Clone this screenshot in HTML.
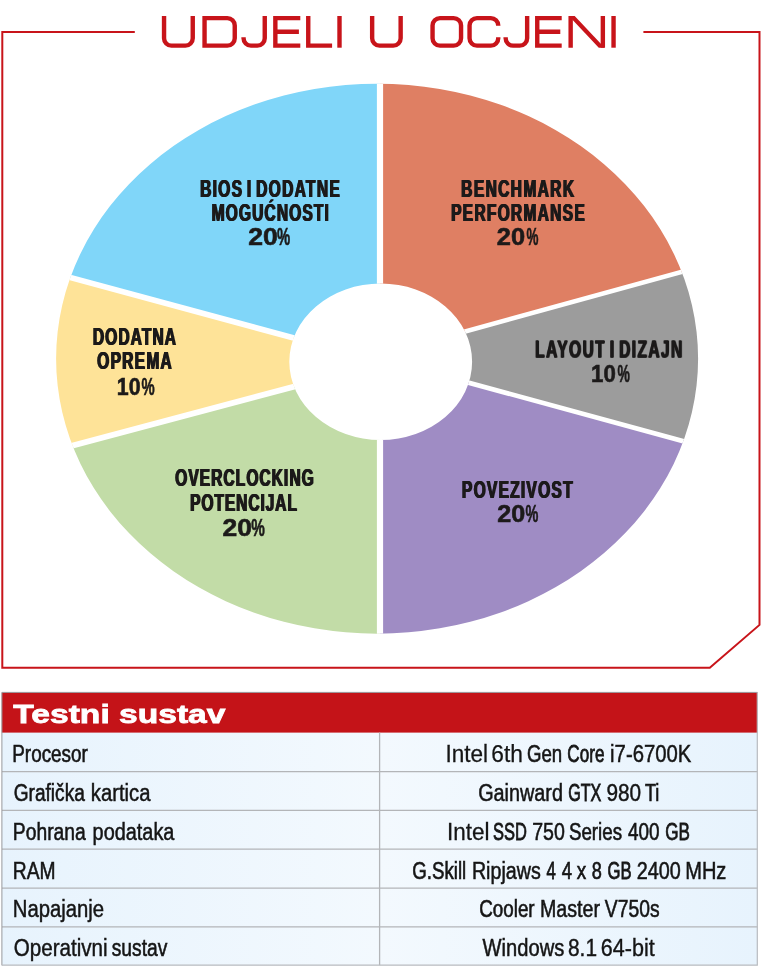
<!DOCTYPE html>
<html>
<head>
<meta charset="utf-8">
<title>Udjeli u ocjeni</title>
<style>
html,body{margin:0;padding:0;background:#fff;}
body{width:764px;height:967px;position:relative;overflow:hidden;font-family:"Liberation Sans",sans-serif;}
svg{position:absolute;left:0;top:0;will-change:transform;}
.lbl{font-family:"Liberation Sans",sans-serif;font-weight:bold;font-size:23.6px;fill:#1c1a1a;stroke:#1c1a1a;stroke-width:0.1px;word-spacing:-3px;}
.lbl text,.cell text,.cell tspan{vector-effect:non-scaling-stroke;}
.hdr{font-family:"Liberation Sans",sans-serif;font-weight:bold;font-size:26.6px;fill:#fff;stroke:#fff;stroke-width:0.8px;}
.cell{font-family:"Liberation Sans",sans-serif;font-size:23px;fill:#151515;stroke:#151515;stroke-width:0.4px;word-spacing:-2px;}
</style>
</head>
<body>
<svg width="764" height="967" viewBox="0 0 764 967">
<defs>
<clipPath id="ring"><path clip-rule="evenodd" d="M56.1,358.65 a321,275 0 1,0 642,0 a321,275 0 1,0 -642,0 Z M289.3,361.8 a91.4,78.2 0 1,1 182.8,0 a91.4,78.2 0 1,1 -182.8,0 Z"/></clipPath>
<linearGradient id="rowg" x1="0" x2="1" y1="0" y2="0">
<stop offset="0" stop-color="#e7f3fd"/><stop offset="0.5" stop-color="#f3f9fe"/><stop offset="1" stop-color="#e7f3fd"/>
</linearGradient>
<filter id="hb" filterUnits="userSpaceOnUse" x="60" y="160" width="640" height="400" color-interpolation-filters="sRGB">
<feOffset in="SourceGraphic" dx="-0.5" dy="0" result="a"/><feOffset in="SourceGraphic" dx="0.5" dy="0" result="b"/>
<feMerge><feMergeNode in="a"/><feMergeNode in="b"/><feMergeNode in="SourceGraphic"/></feMerge>
</filter>
</defs>

<!-- frame -->
<path d="M134.8,32.05 H2.3 V667.7 H709.8 L759.5,624.9 V32.05 H643.4" fill="none" stroke="#c8141a" stroke-width="2"/>

<!-- title -->
<g fill="none" stroke="#c8141a" stroke-width="4.4" stroke-linejoin="miter">
<path d="M164.05,16 V38.2 A7.4,7.4 0 0 0 171.45,45.6 H185.35 A7.4,7.4 0 0 0 192.75,38.2 V16"/>
<path d="M204.55,18.1 H227.35 A7.4,7.4 0 0 1 234.75,25.5 V38.2 A7.4,7.4 0 0 1 227.35,45.6 H204.55 Z"/>
<path d="M264.75,16 V38.2 A7.4,7.4 0 0 1 257.35,45.6 H250.95 A7.4,7.4 0 0 1 243.55,38.2 V37.2"/>
<path d="M300.3,18.1 H275.35 V45.6 H300.3 M275.35,31.8 H298.9"/>
<path d="M308.25,16 V45.6 H332.1"/>
<path d="M339.5,16 V47.7"/>
<path d="M372.15,16 V38.2 A7.4,7.4 0 0 0 379.55,45.6 H393.25 A7.4,7.4 0 0 0 400.65,38.2 V16"/>
<path d="M439.95,18.1 H453.65 A7.4,7.4 0 0 1 461.05,25.5 V38.2 A7.4,7.4 0 0 1 453.65,45.6 H439.95 A7.4,7.4 0 0 1 432.55,38.2 V25.5 A7.4,7.4 0 0 1 439.95,18.1 Z"/>
<path d="M498.25,25.8 V25.5 A7.4,7.4 0 0 0 490.85,18.1 H476.95 A7.4,7.4 0 0 0 469.55,25.5 V38.2 A7.4,7.4 0 0 0 476.95,45.6 H490.85 A7.4,7.4 0 0 0 498.25,38.2 V37.2"/>
<path d="M527.15,16 V38.2 A7.4,7.4 0 0 1 519.75,45.6 H513.05 A7.4,7.4 0 0 1 505.65,38.2 V37.2"/>
<path d="M561.7,18.1 H537.25 V45.6 H561.7 M537.25,31.8 H560.3"/>
<path d="M570.65,47.7 V16 M602.85,16 V47.7"/>
<path d="M613.55,16 V47.7"/>
<polygon stroke="none" fill="#c8141a" points="568.9,16 574.7,16 604.6,47.7 598.8,47.7"/>
</g>

<!-- donut -->
<g clip-path="url(#ring)">
<polygon fill="#df7f63" points="380,0 764,0 764,249.2 380,354.9"/>
<polygon fill="#9c9c9c" points="380,354.9 764,249.2 764,463.3 380,358.5"/>
<polygon fill="#9f8cc4" points="380,358.5 764,463.3 764,700 380,700"/>
<polygon fill="#c2dca7" points="380,700 0,700 0,464.8 380,363.9"/>
<polygon fill="#fee398" points="380,363.9 0,464.8 0,258.5 380,361.3"/>
<polygon fill="#80d6f9" points="380,361.3 0,258.5 0,0 380,0"/>
<g stroke="#fff" stroke-width="4.7" fill="none">
<line x1="380" y1="0" x2="380" y2="700" stroke-width="6.2"/>
<line x1="380" y1="354.9" x2="764" y2="249.2"/>
<line x1="380" y1="358.5" x2="764" y2="463.3"/>
<line x1="380" y1="363.9" x2="0" y2="464.8" stroke-width="5.8"/>
<line x1="380" y1="361.3" x2="0" y2="258.5" stroke-width="5.7"/>
</g>
</g>

<!-- labels -->
<g class="lbl" filter="url(#hb)">
<g transform="translate(199.70,196.6) scale(0.66,1)"><text x="0" y="0" textLength="211.54" lengthAdjust="spacing">BIOS I DODATNE</text></g>
<g transform="translate(211.20,220.9) scale(0.66,1)"><text x="0" y="0" textLength="177.61" lengthAdjust="spacing">MOGUĆNOSTI</text></g>
<g transform="translate(460.80,196.6) scale(0.66,1)"><text x="0" y="0" textLength="171.11" lengthAdjust="spacing">BENCHMARK</text></g>
<g transform="translate(450.70,220.9) scale(0.66,1)"><text x="0" y="0" textLength="202.46" lengthAdjust="spacing">PERFORMANSE</text></g>
<g transform="translate(534.80,357.5) scale(0.66,1)"><text x="0" y="0" textLength="222.77" lengthAdjust="spacing">LAYOUT I DIZAJN</text></g>
<g transform="translate(461.60,497.6) scale(0.66,1)"><text x="0" y="0" textLength="167.60" lengthAdjust="spacing">POVEZIVOST</text></g>
<g transform="translate(174.80,486.2) scale(0.66,1)"><text x="0" y="0" textLength="209.90" lengthAdjust="spacing">OVERCLOCKING</text></g>
<g transform="translate(189.70,511.1) scale(0.66,1)"><text x="0" y="0" textLength="161.87" lengthAdjust="spacing">POTENCIJAL</text></g>
<g transform="translate(92.50,344.8) scale(0.66,1)"><text x="0" y="0" textLength="125.85" lengthAdjust="spacing">DODATNA</text></g>
<g transform="translate(96.80,369.4) scale(0.66,1)"><text x="0" y="0" textLength="112.94" lengthAdjust="spacing">OPREMA</text></g>
</g>
<g class="lbl">
<g transform="translate(248.20,245.4) scale(0.9,1)"><text x="0" y="0" stroke-width="0.55" textLength="32.83" lengthAdjust="spacingAndGlyphs">20</text></g>
<g transform="translate(277.10,245.4) scale(0.56,1)"><text x="0" y="0" stroke-width="0.5" textLength="23.53" lengthAdjust="spacingAndGlyphs">%</text></g>
<g transform="translate(496.80,245.4) scale(0.9,1)"><text x="0" y="0" stroke-width="0.55" textLength="31.39" lengthAdjust="spacingAndGlyphs">20</text></g>
<g transform="translate(526.40,245.4) scale(0.56,1)"><text x="0" y="0" stroke-width="0.5" textLength="21.35" lengthAdjust="spacingAndGlyphs">%</text></g>
<g transform="translate(591.10,381.6) scale(0.9,1)"><text x="0" y="0" stroke-width="0.55" textLength="27.50" lengthAdjust="spacingAndGlyphs">10</text></g>
<g transform="translate(617.60,381.6) scale(0.56,1)"><text x="0" y="0" stroke-width="0.5" textLength="22.14" lengthAdjust="spacingAndGlyphs">%</text></g>
<g transform="translate(497.20,522.4) scale(0.9,1)"><text x="0" y="0" stroke-width="0.55" textLength="31.08" lengthAdjust="spacingAndGlyphs">20</text></g>
<g transform="translate(525.60,522.4) scale(0.56,1)"><text x="0" y="0" stroke-width="0.5" textLength="22.91" lengthAdjust="spacingAndGlyphs">%</text></g>
<g transform="translate(222.60,536.2) scale(0.9,1)"><text x="0" y="0" stroke-width="0.55" textLength="32.70" lengthAdjust="spacingAndGlyphs">20</text></g>
<g transform="translate(251.30,536.2) scale(0.56,1)"><text x="0" y="0" stroke-width="0.5" textLength="24.24" lengthAdjust="spacingAndGlyphs">%</text></g>
<g transform="translate(116.80,394.6) scale(0.9,1)"><text x="0" y="0" stroke-width="0.55" textLength="26.44" lengthAdjust="spacingAndGlyphs">10</text></g>
<g transform="translate(141.50,394.6) scale(0.56,1)"><text x="0" y="0" stroke-width="0.5" textLength="23.52" lengthAdjust="spacingAndGlyphs">%</text></g>
</g>

<!-- table -->
<rect x="1.8" y="692.5" width="755.8" height="272.9" fill="url(#rowg)"/>
<rect x="1.8" y="692.5" width="755.8" height="40.1" fill="#c41318"/>
<g stroke="#b3b5b8" stroke-width="1.3" fill="none">
<line x1="2" y1="771.6" x2="757.5" y2="771.6"/>
<line x1="2" y1="810.4" x2="757.5" y2="810.4"/>
<line x1="2" y1="849.2" x2="757.5" y2="849.2"/>
<line x1="2" y1="888.1" x2="757.5" y2="888.1"/>
<line x1="2" y1="926.9" x2="757.5" y2="926.9"/>
<line x1="379.6" y1="732.6" x2="379.6" y2="965.2"/>
</g>
<g stroke="#aeb0b3" stroke-width="1" fill="none">
<path d="M1.9,965.4 V692.4 H757.4" stroke="#9a9a9c"/>
<path d="M757.3,692.4 V965.2 H1.9" stroke="#b9bcc0" stroke-width="1.2"/>
</g>
<text class="hdr" x="13.3" y="722.5" textLength="212.2" lengthAdjust="spacingAndGlyphs">Testni sustav</text>
<g class="cell">
<text y="761.9"><tspan x="12.26" textLength="75.60" lengthAdjust="spacingAndGlyphs" stroke-width="0.60">Procesor</tspan></text>
<text y="800.8"><tspan x="13.74" textLength="71.10" lengthAdjust="spacingAndGlyphs" stroke-width="0.58">Grafička</tspan> <tspan x="90.84" textLength="59.65" lengthAdjust="spacingAndGlyphs" stroke-width="0.48">kartica</tspan></text>
<text y="839.7"><tspan x="12.84" textLength="72.90" lengthAdjust="spacingAndGlyphs" stroke-width="0.56">Pohrana</tspan> <tspan x="92.58" textLength="81.80" lengthAdjust="spacingAndGlyphs" stroke-width="0.51">podataka</tspan></text>
<text y="878.5"><tspan x="12.84" textLength="42.77" lengthAdjust="spacingAndGlyphs" stroke-width="0.57">RAM</tspan></text>
<text y="917.4"><tspan x="12.84" textLength="91.33" lengthAdjust="spacingAndGlyphs" stroke-width="0.48">Napajanje</tspan></text>
<text y="956.2"><tspan x="13.74" textLength="93.91" lengthAdjust="spacingAndGlyphs" stroke-width="0.45">Operativni</tspan> <tspan x="111.74" textLength="55.60" lengthAdjust="spacingAndGlyphs" stroke-width="0.57">sustav</tspan></text>
<text y="761.9"><tspan x="445.44" textLength="42.63" lengthAdjust="spacingAndGlyphs" stroke-width="0.27">Intel</tspan> <tspan x="491.34" textLength="31.63" lengthAdjust="spacingAndGlyphs" stroke-width="0.25">6th</tspan> <tspan x="527.00" textLength="35.25" lengthAdjust="spacingAndGlyphs" stroke-width="0.62">Gen</tspan> <tspan x="567.32" textLength="37.12" lengthAdjust="spacingAndGlyphs" stroke-width="0.76">Core</tspan> <tspan x="610.08" textLength="81.31" lengthAdjust="spacingAndGlyphs" stroke-width="0.47">i7-6700K</tspan></text>
<text y="800.8"><tspan x="478.16" textLength="84.80" lengthAdjust="spacingAndGlyphs" stroke-width="0.52">Gainward</tspan> <tspan x="568.24" textLength="33.09" lengthAdjust="spacingAndGlyphs" stroke-width="0.85">GTX</tspan> <tspan x="606.50" textLength="34.68" lengthAdjust="spacingAndGlyphs" stroke-width="0.43">980</tspan> <tspan x="644.90" textLength="14.35" lengthAdjust="spacingAndGlyphs" stroke-width="0.68">Ti</tspan></text>
<text y="839.7"><tspan x="446.94" textLength="42.45" lengthAdjust="spacingAndGlyphs" stroke-width="0.28">Intel</tspan> <tspan x="493.00" textLength="33.80" lengthAdjust="spacingAndGlyphs" stroke-width="0.82">SSD</tspan> <tspan x="532.24" textLength="32.63" lengthAdjust="spacingAndGlyphs" stroke-width="0.54">750</tspan> <tspan x="568.92" textLength="53.10" lengthAdjust="spacingAndGlyphs" stroke-width="0.61">Series</tspan> <tspan x="627.98" textLength="31.61" lengthAdjust="spacingAndGlyphs" stroke-width="0.60">400</tspan> <tspan x="665.16" textLength="24.70" lengthAdjust="spacingAndGlyphs" stroke-width="0.76">GB</tspan></text>
<text y="878.5"><tspan x="412.24" textLength="53.98" lengthAdjust="spacingAndGlyphs" stroke-width="0.62">G.Skill</tspan> <tspan x="471.92" textLength="68.82" lengthAdjust="spacingAndGlyphs" stroke-width="0.53">Ripjaws</tspan> <tspan x="546.56" textLength="9.26" lengthAdjust="spacingAndGlyphs" stroke-width="0.80">4</tspan> <tspan x="561.82" textLength="10.29" lengthAdjust="spacingAndGlyphs" stroke-width="0.64">4</tspan> <tspan x="576.74" textLength="9.46" lengthAdjust="spacingAndGlyphs" stroke-width="0.60">x</tspan> <tspan x="591.74" textLength="10.09" lengthAdjust="spacingAndGlyphs" stroke-width="0.67">8</tspan> <tspan x="607.58" textLength="24.09" lengthAdjust="spacingAndGlyphs" stroke-width="0.80">GB</tspan> <tspan x="636.74" textLength="44.07" lengthAdjust="spacingAndGlyphs" stroke-width="0.52">2400</tspan> <tspan x="685.18" textLength="41.24" lengthAdjust="spacingAndGlyphs" stroke-width="0.49">MHz</tspan></text>
<text y="917.4"><tspan x="479.24" textLength="55.39" lengthAdjust="spacingAndGlyphs" stroke-width="0.61">Cooler</tspan> <tspan x="540.00" textLength="59.98" lengthAdjust="spacingAndGlyphs" stroke-width="0.53">Master</tspan> <tspan x="604.82" textLength="54.74" lengthAdjust="spacingAndGlyphs" stroke-width="0.56">V750s</tspan></text>
<text y="956.2"><tspan x="482.56" textLength="81.73" lengthAdjust="spacingAndGlyphs" stroke-width="0.49">Windows</tspan> <tspan x="568.00" textLength="29.00" lengthAdjust="spacingAndGlyphs" stroke-width="0.42">8.1</tspan> <tspan x="600.84" textLength="53.92" lengthAdjust="spacingAndGlyphs" stroke-width="0.36">64-bit</tspan></text>
</g>
</svg>
</body>
</html>
